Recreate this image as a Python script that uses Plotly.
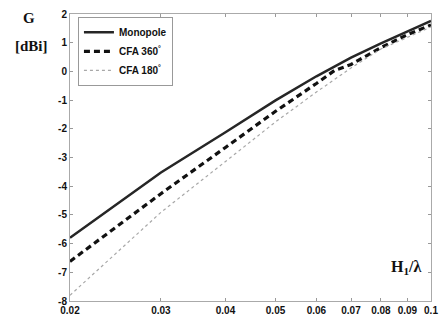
import plotly.graph_objects as go

x_vals = [0.02, 0.03, 0.04, 0.05, 0.06, 0.065, 0.07, 0.08, 0.09, 0.1]
monopole = [-5.80, -3.52, -2.12, -1.01, -0.17, 0.17, 0.48, 0.98, 1.38, 1.76]
cfa360 = [-6.62, -4.26, -2.65, -1.39, -0.42, 0.03, 0.24, 0.83, 1.28, 1.62]
cfa180 = [-7.8, -4.91, -3.14, -1.76, -0.72, -0.3, 0.12, 0.78, 1.2, 1.55]

x_ticks = [0.02, 0.03, 0.04, 0.05, 0.06, 0.07, 0.08, 0.09, 0.1]
x_ticktext = ["0.02", "0.03", "0.04", "0.05", "0.06", "0.07", "0.08", "0.09", "0.1"]
y_ticks = [2, 1, 0, -1, -2, -3, -4, -5, -6, -7, -8]
y_ticktext = ["2", "1", "0", "-1", "-2", "-3", "-4", "-5", "-6", "-7", "-8"]

fig = go.Figure()
fig.add_trace(go.Scatter(x=x_vals, y=monopole, mode="lines", name="Monopole",
                         line=dict(color="#262626", width=2.5, dash="solid")))
fig.add_trace(go.Scatter(x=x_vals, y=cfa360, mode="lines", name="CFA 360<sup>°</sup>",
                         line=dict(color="#111111", width=3.2, dash="6px,4px")))
fig.add_trace(go.Scatter(x=x_vals, y=cfa180, mode="lines", name="CFA 180<sup>°</sup>",
                         line=dict(color="#a8a8a8", width=1.2, dash="dot")))

tickfont = dict(family="Liberation Sans", size=10, color="#111", weight="bold")

fig.update_layout(
    width=446, height=324,
    margin=dict(l=70, r=8, t=11, b=23),
    paper_bgcolor="white", plot_bgcolor="white",
    showlegend=True,
    legend=dict(x=0.022, y=0.99, xanchor="left", yanchor="top",
                bgcolor="white", bordercolor="#999", borderwidth=1,
                font=dict(family="Liberation Sans", size=10, color="#111", weight="bold"),
                itemwidth=30, tracegroupgap=0),
    xaxis=dict(type="log", range=[0.30103 - 2, -1.0],
               tickvals=x_ticks, ticktext=x_ticktext, tickfont=tickfont,
               ticks="inside", ticklen=3, tickcolor="#999",
               showline=True, linecolor="#aaa", linewidth=1, mirror="ticks",
               showgrid=False, zeroline=False),
    yaxis=dict(range=[-8, 2], tickvals=y_ticks, ticktext=y_ticktext, tickfont=tickfont,
               ticks="inside", ticklen=3, tickcolor="#999",
               showline=True, linecolor="#aaa", linewidth=1, mirror="ticks",
               showgrid=False, zeroline=False),
    annotations=[
        dict(text="G", xref="paper", yref="paper", x=-0.114, y=0.985,
             xanchor="center", yanchor="middle", showarrow=False,
             font=dict(family="Liberation Serif", size=15, color="#111", weight="bold")),
        dict(text="[dBi]", xref="paper", yref="paper", x=-0.108, y=0.889,
             xanchor="center", yanchor="middle", showarrow=False,
             font=dict(family="Liberation Serif", size=15, color="#111", weight="bold")),
        dict(text="H<sub>1</sub>/λ", xref="paper", yref="paper", x=0.93, y=0.115,
             xanchor="center", yanchor="middle", showarrow=False,
             font=dict(family="Liberation Serif", size=16, color="#111", weight="bold")),
    ],
)

fig.write_html("out.html")
